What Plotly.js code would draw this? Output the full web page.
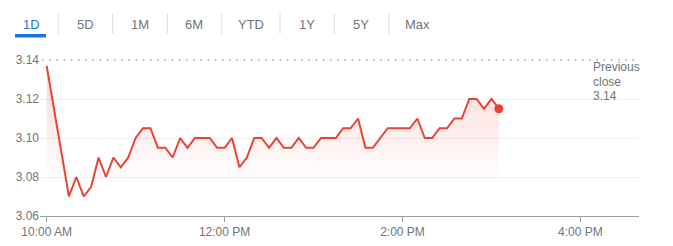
<!DOCTYPE html>
<html>
<head>
<meta charset="utf-8">
<script src="https://cdn.plot.ly/plotly-3.0.1.min.js"></script>
<style>
  html, body { margin: 0; padding: 0; background: #fff; }
  #chart { width: 673px; height: 246px; }
</style>
</head>
<body>
<div id="chart"></div>
<script>
// ---- data ----
const times = [
  "2024-03-15 10:00","2024-03-15 10:05","2024-03-15 10:10","2024-03-15 10:15","2024-03-15 10:20",
  "2024-03-15 10:25","2024-03-15 10:30","2024-03-15 10:35","2024-03-15 10:40","2024-03-15 10:45",
  "2024-03-15 10:50","2024-03-15 10:55","2024-03-15 11:00","2024-03-15 11:05","2024-03-15 11:10",
  "2024-03-15 11:15","2024-03-15 11:20","2024-03-15 11:25","2024-03-15 11:30","2024-03-15 11:35",
  "2024-03-15 11:40","2024-03-15 11:45","2024-03-15 11:50","2024-03-15 11:55","2024-03-15 12:00",
  "2024-03-15 12:05","2024-03-15 12:10","2024-03-15 12:15","2024-03-15 12:20","2024-03-15 12:25",
  "2024-03-15 12:30","2024-03-15 12:35","2024-03-15 12:40","2024-03-15 12:45","2024-03-15 12:50",
  "2024-03-15 12:55","2024-03-15 13:00","2024-03-15 13:05","2024-03-15 13:10","2024-03-15 13:15",
  "2024-03-15 13:20","2024-03-15 13:25","2024-03-15 13:30","2024-03-15 13:35","2024-03-15 13:40",
  "2024-03-15 13:45","2024-03-15 13:50","2024-03-15 13:55","2024-03-15 14:00","2024-03-15 14:05",
  "2024-03-15 14:10","2024-03-15 14:15","2024-03-15 14:20","2024-03-15 14:25","2024-03-15 14:30",
  "2024-03-15 14:35","2024-03-15 14:40","2024-03-15 14:45","2024-03-15 14:50","2024-03-15 14:55",
  "2024-03-15 15:00","2024-03-15 15:05"
];
const prices = [
  3.137, 3.115, 3.092, 3.070, 3.080,
  3.070, 3.075, 3.090, 3.080, 3.090,
  3.085, 3.090, 3.100, 3.105, 3.105,
  3.095, 3.095, 3.090, 3.100, 3.095,
  3.100, 3.100, 3.100, 3.095, 3.095,
  3.100, 3.085, 3.090, 3.100, 3.100,
  3.095, 3.100, 3.095, 3.095, 3.100,
  3.095, 3.095, 3.100, 3.100, 3.100,
  3.105, 3.105, 3.110, 3.095, 3.095,
  3.100, 3.105, 3.105, 3.105, 3.105,
  3.110, 3.100, 3.100, 3.105, 3.105,
  3.110, 3.110, 3.120, 3.120, 3.115,
  3.120, 3.115
];
const previousClose = 3.14;
const previousCloseLines = ["Previous", "close", "3.14"];
const yTickVals = [3.06, 3.08, 3.10, 3.12, 3.14];
const yTickText = ["3.06", "3.08", "3.10", "3.12", "3.14"];
const xTickVals = ["2024-03-15 10:00", "2024-03-15 12:00", "2024-03-15 14:00", "2024-03-15 16:00"];
const xTickText = ["10:00 AM", "12:00 PM", "2:00 PM", "4:00 PM"];
const rangeButtons = ["1D", "5D", "1M", "6M", "YTD", "1Y", "5Y", "Max"];
const xRange = ["2024-03-15 09:55:30", "2024-03-15 16:39:30"];

// ---- layout helpers (pixel -> paper) ----
const W = 673, H = 246;
const M = { l: 40, r: 34, t: 59, b: 30 };
const plotW = W - M.l - M.r, plotH = H - M.t - M.b;
const px = x => (x - M.l) / plotW;
const py = y => (H - M.b - y) / plotH;
// y range: 3.06 at bottom edge, 3.14 one pixel below the top edge
const perPx = 0.08 / (plotH - 1);
const yRange = [3.06, 3.14 + perPx];

const RED = "#ea4335";
const GREY_TXT = "#70757a";
const FONT = "Liberation Sans, Arial, sans-serif";

const lineTrace = {
  x: times, y: prices,
  type: "scatter", mode: "lines",
  line: { color: RED, width: 2 },
  fill: "tozeroy",
  fillgradient: {
    type: "vertical",
    start: 3.077, stop: 3.135,
    colorscale: [[0, "rgba(234,67,53,0)"], [1, "rgba(234,67,53,0.2)"]]
  },
  hoverinfo: "skip"
};
const lastTrace = {
  x: [times[times.length - 1]], y: [prices[prices.length - 1]],
  type: "scatter", mode: "markers",
  marker: { color: RED, size: 9 },
  hoverinfo: "skip"
};

const buttonCenters = [31, 85, 139.7, 194, 250.7, 307, 361, 417.5];
const dividerX = [58.3, 112.7, 167.3, 221.7, 280, 334.3, 389];
const prevCloseLineY = [67, 81.5, 96];

const annotations = rangeButtons.map((t, i) => ({
  text: t, xref: "paper", yref: "paper",
  x: px(buttonCenters[i]), y: py(24),
  xanchor: "center", yanchor: "middle", showarrow: false,
  font: { family: FONT, size: 13, color: i === 0 ? "#1a73e8" : GREY_TXT }
}));
previousCloseLines.forEach((t, i) => annotations.push({
  text: t, xref: "paper", yref: "paper",
  x: px(591), y: py(prevCloseLineY[i]),
  xanchor: "left", yanchor: "middle", align: "left", showarrow: false,
  font: { family: FONT, size: 12, color: GREY_TXT }
}));

const shapes = dividerX.map(x => ({
  type: "line", xref: "paper", yref: "paper",
  x0: px(x), x1: px(x), y0: py(13.5), y1: py(34),
  line: { color: "#dadce0", width: 1 }
}));
shapes.push({
  type: "rect", xref: "paper", yref: "paper",
  x0: px(15), x1: px(46), y0: py(37.5), y1: py(34),
  fillcolor: "#1a73e8", line: { width: 0 }
});
shapes.push({
  type: "line", xref: "paper", yref: "y", layer: "above",
  x0: px(42), x1: px(639), y0: previousClose, y1: previousClose,
  line: { color: "#9aa0a6", width: 1.5, dash: "1.5px,5.7px" }
});

const layout = {
  width: W, height: H,
  margin: M,
  paper_bgcolor: "#fff", plot_bgcolor: "#fff",
  showlegend: false,
  font: { family: FONT, size: 12, color: GREY_TXT },
  xaxis: {
    type: "date", range: xRange,
    tickmode: "array", tickvals: xTickVals, ticktext: xTickText,
    ticks: "outside", ticklen: 5, tickcolor: "#9aa0a6", tickwidth: 1,
    showline: true, linecolor: "#9aa0a6", linewidth: 1,
    showgrid: false, zeroline: false,
    tickfont: { family: FONT, size: 12, color: GREY_TXT }
  },
  yaxis: {
    range: yRange,
    tickmode: "array", tickvals: yTickVals, ticktext: yTickText,
    ticks: "", showline: false, zeroline: false,
    showgrid: true, gridcolor: "#efefef", gridwidth: 1,
    tickfont: { family: FONT, size: 12, color: GREY_TXT }
  },
  annotations, shapes
};

Plotly.newPlot("chart", [lineTrace, lastTrace], layout, { staticPlot: true, displayModeBar: false });
</script>
</body>
</html>
